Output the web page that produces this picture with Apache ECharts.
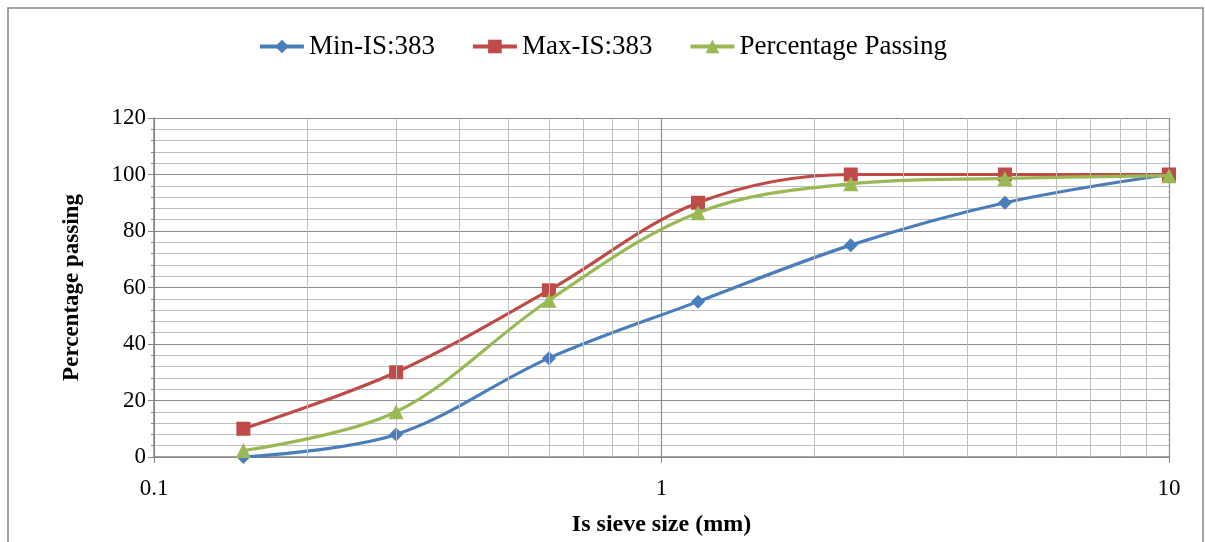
<!DOCTYPE html>
<html><head><meta charset="utf-8">
<script src="https://cdn.jsdelivr.net/npm/echarts@6/dist/echarts.min.js"></script>
<style>html,body{margin:0;padding:0;background:#fff}#c{width:1205px;height:542px}</style>
</head><body><div id="c"></div>
<script>
const sieveSizes = [0.15, 0.3, 0.6, 1.18, 2.36, 4.75, 10];
const minIS = [0, 8, 35, 55, 75, 90, 100];
const maxIS = [10, 30, 59, 90, 100, 100, 100];
const passing = [2.3, 16, 55.5, 86.5, 96.7, 98.6, 99.6];
const seriesNames = ['Min-IS:383', 'Max-IS:383', 'Percentage Passing'];
const minorX = [0.2,0.3,0.4,0.5,0.6,0.7,0.8,0.9,2,3,4,5,6,7,8,9];

const font = '"Liberation Serif", "Times New Roman", serif';
const pairs = arr => sieveSizes.map((x, i) => [x, arr[i]]);
const colors = ['#4A7EBB', '#BE4B48', '#98B954'];
const symbols = ['diamond', 'rect', 'triangle'];
const sizes = [14, 14, 15];

const chart = echarts.init(document.getElementById('c'));
const series = [minIS, maxIS, passing].map((arr, i) => ({
  name: seriesNames[i], type: 'line', data: pairs(arr), smooth: 0.35,
  symbol: symbols[i], symbolSize: sizes[i], showSymbol: true,
  lineStyle: { color: colors[i], width: 3.2 }, itemStyle: { color: colors[i] },
  z: 3 + i
}));
series.unshift({
  type: 'line', data: [], silent: true, z: 1,
  markLine: {
    silent: true, symbol: 'none', label: { show: false },
    lineStyle: { color: '#BFBFBF', width: 1, type: 'solid' },
    data: minorX.map(v => ({ xAxis: v }))
  }
});

chart.setOption({
  animation: false,
  graphic: [{ type: 'rect', shape: { x: 8, y: 8, width: 1195, height: 540 },
    style: { fill: 'none', stroke: '#868686', lineWidth: 1.5 }, silent: true }],
  legend: {
    top: 28, left: 'center', itemGap: 36, itemWidth: 44, itemHeight: 17,
    lineStyle: { width: 4 },
    textStyle: { fontFamily: font, fontSize: 27, color: '#000' },
    data: seriesNames
  },
  grid: { left: 154, right: 36, top: 118, bottom: 83 },
  xAxis: {
    type: 'log', logBase: 10, min: 0.1, max: 10,
    name: 'Is sieve size (mm)', nameLocation: 'middle', nameGap: 56,
    nameTextStyle: { fontFamily: font, fontSize: 24, fontWeight: 'bold', color: '#000' },
    axisLine: { lineStyle: { color: '#868686', width: 1.5 } },
    axisTick: { show: true, length: 6, lineStyle: { color: '#868686' } },
    axisLabel: { fontFamily: font, fontSize: 23, color: '#000', margin: 20,
      formatter: v => String(+v.toPrecision(3)) },
    splitLine: { show: true, lineStyle: { color: '#8C8C8C', width: 1.2 } }
  },
  yAxis: {
    type: 'value', min: 0, max: 120, interval: 20,
    name: 'Percentage passing', nameLocation: 'middle', nameGap: 70,
    nameTextStyle: { fontFamily: font, fontSize: 23, fontWeight: 'bold', color: '#000' },
    axisLine: { show: true, lineStyle: { color: '#868686', width: 1.5 } },
    axisTick: { show: true, length: 6, lineStyle: { color: '#868686' } },
    minorTick: { show: true, splitNumber: 5, length: 3, lineStyle: { color: '#868686' } },
    axisLabel: { fontFamily: font, fontSize: 23, color: '#000', margin: 8 },
    splitLine: { show: true, lineStyle: { color: '#8C8C8C', width: 1.2 } },
    minorSplitLine: { show: true, lineStyle: { color: '#BFBFBF', width: 1 } }
  },
  series
});
</script></body></html>
